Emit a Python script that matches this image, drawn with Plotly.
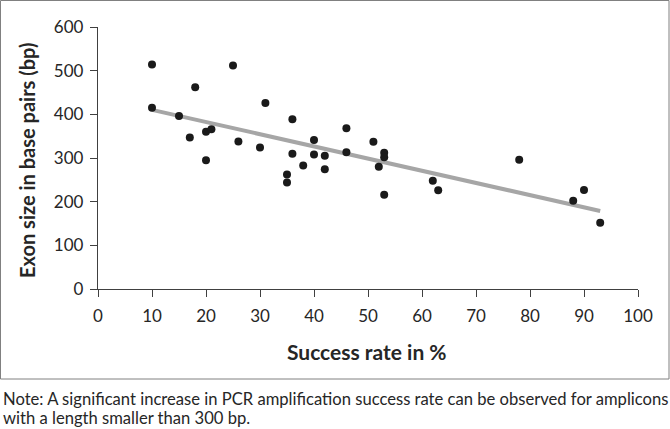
import numpy as np
import plotly.graph_objects as go

success_rate = [10, 10, 15, 17, 18, 20, 20, 21, 25, 26, 30, 31, 35, 35, 36, 36, 38,
                40, 40, 42, 42, 46, 46, 51, 52, 53, 53, 53, 62, 63, 78, 88, 90, 93]
exon_size = [514, 415, 396, 347, 462, 360, 295, 366, 512, 338, 324, 426, 262, 244, 389, 310, 283,
             341, 308, 305, 274, 368, 313, 337, 280, 312, 302, 216, 248, 226, 296, 202, 227, 152]

x_ticks = [0, 10, 20, 30, 40, 50, 60, 70, 80, 90, 100]
y_ticks = [0, 100, 200, 300, 400, 500, 600]

slope, intercept = np.polyfit(success_rate, exon_size, 1)
trend_x = [min(success_rate), max(success_rate)]
trend_y = [slope * v + intercept for v in trend_x]

FONT = "Lato"
L, R, T, B = 98, 32, 27, 140
W, H = 670, 429
pw, ph = W - L - R, H - T - B

def px(xp):
    return (xp - L) / pw

def py(yp):
    return (H - B - yp) / ph

fig = go.Figure()
fig.add_trace(go.Scatter(x=trend_x, y=trend_y, mode="lines",
                         line=dict(color="#a6a6a6", width=4), hoverinfo="skip"))
fig.add_trace(go.Scatter(x=success_rate, y=exon_size, mode="markers",
                         marker=dict(color="#1a1a1a", size=8, line=dict(width=0))))

axis_common = dict(showgrid=False, zeroline=False, showline=True, linecolor="#404040",
                   linewidth=1.3, ticks="outside", ticklen=7, tickwidth=1.3,
                   tickcolor="#404040", tickfont=dict(family=FONT, size=17, color="#262626"))

fig.update_xaxes(range=[0, 100], tickvals=x_ticks, ticklabelstandoff=4, **axis_common)
fig.update_yaxes(range=[0, 600], tickvals=y_ticks, ticklabelstandoff=3, **axis_common)

fig.update_layout(
    width=W, height=H, margin=dict(l=L, r=R, t=T, b=B),
    plot_bgcolor="white", paper_bgcolor="white", showlegend=False,
    shapes=[dict(type="rect", xref="paper", yref="paper",
                 x0=px(0.5), x1=px(669), y0=py(379), y1=py(0.5),
                 line=dict(color="#808080", width=1), layer="below")],
    annotations=[
        dict(text="<b>Success rate in %</b>", xref="paper", yref="paper",
             x=px(367), y=py(351), xanchor="center", yanchor="middle", showarrow=False,
             font=dict(family=FONT, size=21, color="#262626")),
        dict(text="<b>Exon size in base pairs (bp)</b>", xref="paper", yref="paper",
             x=px(27), y=py(161), xanchor="center", yanchor="middle", showarrow=False,
             textangle=-90, font=dict(family=FONT, size=20, color="#262626")),
        dict(text="Note: A significant increase in PCR amplification success rate can be observed for amplicons",
             xref="paper", yref="paper", x=px(1), y=py(399), xanchor="left", yanchor="middle",
             showarrow=False, font=dict(family=FONT, size=16.6, color="#262626")),
        dict(text="with a length smaller than 300 bp.",
             xref="paper", yref="paper", x=px(1), y=py(418), xanchor="left", yanchor="middle",
             showarrow=False, font=dict(family=FONT, size=16.6, color="#262626")),
    ],
)

fig.write_html("out.html", config={"displayModeBar": False},
               post_script="document.body.style.margin='0';document.body.style.overflow='hidden';")
